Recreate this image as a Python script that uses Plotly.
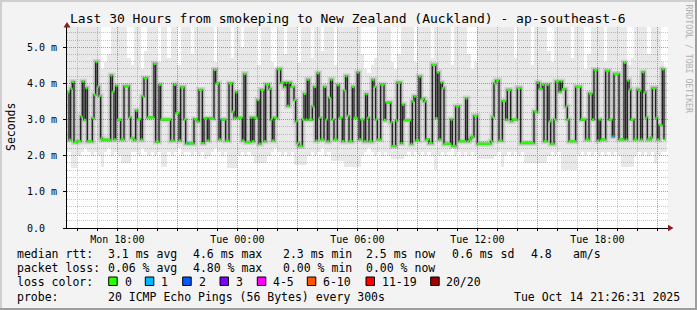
import plotly.graph_objects as go
import pandas as pd

MONO = "DejaVu Sans Mono"

# ---------------- data ----------------
# median RTT in ms, one value per 5-minute step starting Mon 15:30
median_ms = [
    3.75, 2.44, 3.85, 4.04, 2.38, 2.38, 2.4, 2.4, 3.08, 4.05,
    2.99, 3.87, 2.4, 2.4, 2.4, 3.04, 3.68, 4.59, 3.91, 3.65,
    2.48, 2.44, 2.44, 2.44, 2.44, 2.44, 4.22, 3.77, 2.45, 3.93,
    3.0, 2.99, 2.45, 2.45, 3.92, 3.92, 3.92, 3.06, 2.49, 2.49,
    2.44, 3.24, 3.01, 3.01, 2.45, 3.64, 4.14, 4.14, 3.06, 3.06,
    3.06, 3.06, 4.54, 2.39, 2.39, 3.96, 3.0, 3.0, 3.0, 3.0,
    3.0, 3.0, 2.42, 2.42, 3.96, 3.18, 3.18, 2.42, 3.89, 3.89,
    3.0, 2.34, 2.34, 2.34, 2.34, 2.34, 3.01, 3.01, 2.95, 3.82,
    3.82, 2.35, 3.03, 3.03, 2.42, 3.03, 3.03, 3.03, 4.37, 4.0,
    4.0, 2.45, 3.0, 3.0, 3.0, 2.42, 2.42, 4.0, 4.0, 3.22,
    3.05, 3.75, 3.05, 3.05, 3.05, 2.42, 4.26, 2.38, 2.38, 2.38,
    3.05, 2.4, 3.05, 3.05, 3.54, 2.33, 3.82, 3.82, 2.4, 3.96,
    3.96, 3.85, 3.0, 2.42, 3.05, 3.05, 4.39, 4.39, 4.02, 4.02,
    3.9, 4.02, 3.38, 4.02, 3.9, 3.9, 3.54, 2.95, 2.35, 2.27,
    2.27, 3.0, 3.71, 3.0, 4.1, 3.0, 3.0, 3.36, 3.9, 2.42,
    4.28, 3.05, 2.45, 2.45, 3.9, 3.0, 2.4, 3.6, 4.1, 3.0,
    2.45, 2.45, 3.95, 3.05, 3.05, 2.4, 3.8, 4.2, 3.1, 2.4,
    2.4, 3.9, 3.05, 3.05, 4.3, 2.45, 3.0, 3.0, 2.4, 3.7,
    3.05, 2.4, 2.4, 4.1, 3.9, 3.0, 2.45, 2.45, 3.96, 3.96,
    2.99, 3.47, 3.47, 3.47, 2.92, 2.27, 2.27, 2.97, 4.02, 4.02,
    2.35, 3.41, 2.98, 2.98, 2.98, 2.98, 2.33, 3.5, 3.64, 2.42,
    2.42, 4.19, 3.57, 3.57, 3.5, 2.45, 2.45, 2.35, 2.35, 4.51,
    4.51, 3.04, 4.3, 2.45, 4.02, 3.87, 2.33, 2.33, 2.33, 2.33,
    3.0, 2.27, 2.27, 3.36, 3.36, 2.4, 2.4, 2.4, 2.4, 3.58,
    2.4, 2.45, 2.5, 2.53, 3.1, 3.1, 2.33, 2.33, 2.33, 2.33,
    2.33, 2.33, 2.33, 2.33, 2.4, 3.07, 4.0, 4.08, 4.08, 2.42,
    2.42, 3.51, 3.51, 3.0, 3.82, 3.82, 2.96, 3.0, 3.0, 3.0,
    3.87, 3.87, 2.35, 2.35, 2.35, 2.35, 2.35, 2.35, 2.35, 2.35,
    3.22, 3.22, 4.02, 3.85, 3.85, 3.96, 2.4, 2.4, 3.96, 2.95,
    2.33, 2.33, 3.0, 4.05, 4.05, 3.77, 4.05, 3.84, 3.84, 3.36,
    3.0, 2.4, 2.4, 2.4, 2.4, 3.9, 3.9, 3.9, 3.0, 3.0,
    3.0, 2.45, 2.45, 3.72, 3.72, 3.0, 4.37, 4.37, 2.42, 3.0,
    2.45, 2.45, 2.45, 4.34, 4.34, 3.0, 3.0, 2.53, 4.26, 4.26,
    4.26, 2.45, 2.45, 2.45, 4.57, 2.45, 4.08, 3.83, 3.0, 3.0,
    2.45, 2.45, 3.83, 3.8, 2.45, 4.31, 3.75, 3.06, 2.45, 2.45,
    2.5, 3.87, 3.87, 3.05, 2.45, 2.85, 2.85, 4.39, 2.45,
]
# steps that lost pings (index into median_ms) and how many of 20 were lost
loss_steps = [72, 92, 327]
loss_counts = [1, 1, 1]

# smoke envelope (ms), one value per 10-minute column starting Mon 15:30
smoke_hi = (
    [5.6] * 10 + [4.4, 4.6, 4.8] + [5.6] * 5 + [4.7, 4.5] + [5.6] * 2 + [4.4, 4.9]
    + [5.6] * 3 + [4.6] + [5.6] * 2 + [4.7] + [5.6] * 2 + [4.5] + [5.6] * 3 + [4.8]
    + [5.6] * 6 + [4.6] + [5.6] * 4 + [4.7] + [5.6] * 2 + [5.0] + [5.6] * 4 + [4.5]
    + [5.6] * 3 + [4.6, 4.4] + [5.6] * 2 + [4.8] + [5.6] * 3 + [4.6] + [5.6] * 3
    + [4.7] + [5.6] * 2 + [4.9] + [5.6] * 3 + [4.5] + [5.6] * 7
    + [4.8, 4.4, 4.3, 4.5, 4.7] + [5.6] * 4 + [4.6, 4.4, 4.8] + [5.6] * 4 + [4.6]
    + [5.6] * 4 + [4.7] + [5.6] * 5 + [4.5] + [5.6] * 4 + [4.8, 4.4, 4.6] + [5.6] * 11
    + [4.7] + [5.6] * 4 + [4.5] + [5.6] * 4 + [4.9, 4.6] + [5.6] * 5 + [4.7] + [5.6] * 3
    + [4.4, 4.8] + [5.6] * 4 + [4.6] + [5.6] * 6 + [4.5, 4.7] + [5.6] * 4 + [4.8]
    + [5.6] * 3 + [4.6, 4.4]
)
smoke_lo = [
    2.1, 1.65, 1.65, 2.0, 2.1, 2.2, 2.1, 2.0, 2.1, 2.0,
    1.7, 2.1, 2.2, 2.0, 2.1, 2.0, 1.8, 1.8, 1.8, 2.1,
    2.1, 2.0, 2.2, 2.1, 2.0, 2.1, 2.0, 2.1, 1.7, 1.7,
    2.1, 2.0, 2.1, 2.2, 2.0, 2.1, 2.1, 2.0, 2.1, 2.0,
    2.1, 1.9, 2.0, 2.1, 2.2, 2.1, 2.0, 2.1, 1.65, 1.65,
    1.65, 2.0, 2.1, 2.0, 2.1, 2.0, 1.8, 1.8, 1.8, 1.8,
    2.0, 2.1, 2.2, 2.1, 2.0, 2.1, 2.0, 2.1, 1.75, 1.75,
    1.75, 1.75, 2.0, 2.1, 2.0, 2.1, 2.2, 2.0, 2.1, 1.85,
    1.85, 1.85, 1.85, 1.7, 1.7, 1.7, 1.7, 1.7, 2.0, 2.1,
    2.2, 2.1, 2.0, 2.1, 2.0, 2.1, 2.0, 1.9, 1.9, 1.9,
    1.9, 2.0, 2.1, 2.0, 2.1, 2.0, 2.1, 2.0, 2.1, 2.0,
    1.6, 2.0, 2.1, 2.0, 2.1, 2.2, 2.0, 2.1, 2.0, 2.1,
    2.0, 2.1, 2.0, 1.9, 1.9, 1.9, 1.9, 1.9, 2.0, 2.1,
    1.7, 2.0, 2.1, 2.0, 2.1, 2.0, 2.1, 1.8, 1.8, 1.8,
    1.8, 1.8, 1.8, 1.8, 2.0, 2.1, 2.0, 2.1, 1.6, 1.6,
    1.6, 1.6, 1.6, 2.0, 2.1, 2.0, 2.1, 2.0, 2.1, 2.0,
    2.1, 2.0, 2.1, 2.0, 2.1, 2.0, 1.7, 1.7, 1.7, 1.7,
    2.0, 2.1, 2.0, 2.1, 2.0, 2.1, 1.8, 2.0, 2.1, 2.1,
]

y_tick_vals = [0, 1, 2, 3, 4, 5]
y_tick_text = ["0.0\u00a0\u00a0", "1.0 m", "2.0 m", "3.0 m", "4.0 m", "5.0 m"]
x_tick_vals = ["2025-10-13 18:00", "2025-10-13 21:00", "2025-10-14 00:00",
               "2025-10-14 03:00", "2025-10-14 06:00", "2025-10-14 09:00",
               "2025-10-14 12:00", "2025-10-14 15:00", "2025-10-14 18:00",
               "2025-10-14 21:00"]
x_tick_text = ["Mon 18:00", "", "Tue 00:00", "", "Tue 06:00", "",
               "Tue 12:00", "", "Tue 18:00", ""]

loss_legend = ["0", "1", "2", "3", "4-5", "6-10", "11-19", "20/20"]
loss_colors = ["#26ff00", "#00b8ff", "#0059ff", "#7e00ff", "#ff00ff",
               "#ff5500", "#ff0000", "#a10000"]

# ---------------- derived x positions ----------------
t0 = pd.Timestamp("2025-10-13 15:30")
step = pd.Timedelta(minutes=5)
t_line = [t0 + i * step for i in range(len(median_ms))]
t_mark = [t + step / 2 for t in t_line]
t_smoke = [t0 + (2 * j + 1) * step for j in range(len(smoke_hi))]

loss_per_step = [0] * len(median_ms)
for i, c in zip(loss_steps, loss_counts):
    loss_per_step[i] = c
mark_colors = [loss_colors[min(c, 7)] for c in loss_per_step]

# ---------------- figure ----------------
L, T, W, H = 67, 27, 601, 201


def xp(px):
    return (px - L) / W


def yp(py):
    return (T + H - py) / H


fig = go.Figure()
fig.add_trace(go.Bar(
    x=t_smoke, y=[h - l for h, l in zip(smoke_hi, smoke_lo)], base=smoke_lo,
    width=600000, marker=dict(color="rgba(0,0,0,0.085)", line=dict(width=0)),
    hoverinfo="skip"))
fig.add_trace(go.Scatter(
    x=t_line, y=median_ms, mode="lines",
    line=dict(shape="hv", width=6, color="rgba(0,0,0,0.10)"), hoverinfo="skip"))
fig.add_trace(go.Scatter(
    x=t_line, y=median_ms, mode="lines",
    line=dict(shape="hv", width=3, color="rgba(0,0,0,0.16)"), hoverinfo="skip"))
fig.add_trace(go.Scatter(
    x=t_line, y=median_ms, mode="lines",
    line=dict(shape="hv", width=1.2, color="#1a1a1a"), hoverinfo="skip"))
fig.add_trace(go.Scatter(
    x=t_mark, y=median_ms, mode="markers",
    marker=dict(symbol="square", size=2.2, color=mark_colors, line=dict(width=0)),
    hoverinfo="skip"))

fig.update_layout(
    width=697, height=310,
    margin=dict(l=L, r=697 - L - W, t=T, b=310 - T - H, pad=0),
    paper_bgcolor="#f3f3f3", plot_bgcolor="#ffffff",
    showlegend=False, barmode="overlay", bargap=0,
    font=dict(family=MONO, size=10, color="#000000"),
)
fig.update_xaxes(
    type="date", range=["2025-10-13 15:29", "2025-10-14 21:32"],
    tickmode="array", tickvals=x_tick_vals, ticktext=x_tick_text,
    showgrid=True, gridcolor="#e48a8a", griddash="1px,1px", gridwidth=1,
    ticks="outside", ticklen=2, tickcolor="#000", tickwidth=1,
    tickfont=dict(family=MONO, size=10, color="#000"),
    showline=True, linecolor="#000", linewidth=1, zeroline=False,
    minor=dict(dtick=3600000, tick0="2025-10-13 16:00", showgrid=True,
               gridcolor="#c8c8c8", griddash="1px,1px", gridwidth=1,
               ticks="outside", ticklen=2, tickcolor="#000"),
    fixedrange=True,
)
fig.update_yaxes(
    range=[0, 5.56], tickmode="array", tickvals=y_tick_vals, ticktext=y_tick_text,
    showgrid=True, gridcolor="#e48a8a", griddash="1px,1px", gridwidth=1,
    ticks="outside", ticklen=3, tickcolor="#000", tickwidth=1,
    tickfont=dict(family=MONO, size=10, color="#000"), ticklabelstandoff=4,
    showline=True, linecolor="#000", linewidth=1, zeroline=False,
    minor=dict(dtick=0.2, tick0=0, showgrid=True, gridcolor="#c8c8c8",
               griddash="1px,1px", gridwidth=1),
    fixedrange=True,
)

shapes = []


def rect(x0, y0, x1, y1, fill, line=None):
    d = dict(type="rect", xref="paper", yref="paper",
             x0=xp(x0), x1=xp(x1), y0=yp(y1), y1=yp(y0),
             fillcolor=fill, line=dict(width=0) if line is None else line,
             layer="above")
    return d


def path(points, fill):
    s = "M " + " L ".join(f"{xp(a):.5f},{yp(b):.5f}" for a, b in points) + " Z"
    return dict(type="path", xref="paper", yref="paper", path=s,
                fillcolor=fill, line=dict(width=0), layer="above")


# 3D frame
shapes.append(rect(0, 0, 697, 2, "#cfcfcf"))
shapes.append(rect(0, 0, 2, 310, "#cfcfcf"))
shapes.append(rect(0, 308, 697, 310, "#9e9e9e"))
shapes.append(rect(695, 0, 697, 310, "#9e9e9e"))
# axis arrows
shapes.append(path([(63.5, 27.5), (70.5, 27.5), (67, 22)], "#8e1c1c"))
shapes.append(path([(668, 224.8), (668, 231.2), (673.5, 228)], "#8e1c1c"))

annotations = []


def ann(text, px, py, size=11.5, xanchor="left", color="#000", **kw):
    return dict(text=text, x=xp(px), y=yp(py), xref="paper", yref="paper",
                xanchor=xanchor, yanchor="middle", showarrow=False,
                font=dict(family=MONO, size=size, color=color), **kw)


annotations.append(ann("Last 30 Hours from smokeping to New Zealand (Auckland) - ap-southeast-6",
                       347.5, 18.5, size=13, xanchor="center"))
annotations.append(ann("Seconds", 11, 127, size=11.5, xanchor="center", textangle=-90))
annotations.append(ann("RRDTOOL / TOBI OETIKER", 688.5, 59, size=8.2,
                       xanchor="center", color="#b0b0b0", textangle=90))

rows = [253.7, 268.0, 282.3, 296.7]
row1 = [("median rtt:", 16), ("3.1 ms avg", 107.3), ("4.6 ms max", 192.7),
        ("2.3 ms min", 282.7), ("2.5 ms now", 365), ("0.6 ms sd", 451.7),
        ("4.8", 530), ("am/s", 572.3)]
row2 = [("packet loss:", 16), ("0.06 % avg", 107.3), ("4.80 % max", 192.7),
        ("0.00 % min", 282.7), ("0.00 % now", 365)]
row4 = [("probe:", 16), ("20 ICMP Echo Pings (56 Bytes) every 300s", 107.3),
        ("Tue Oct 14 21:26:31 2025", 513.3)]
for txt, px in row1:
    annotations.append(ann(txt, px - 1.5, rows[0]))
for txt, px in row2:
    annotations.append(ann(txt, px - 1.5, rows[1]))
for txt, px in row4:
    annotations.append(ann(txt, px - 1.5, rows[3]))
annotations.append(ann("loss color:", 16 - 1.5, rows[2]))

sq_x = [108.7, 145.3, 182.7, 220, 257.3, 307.3, 366, 430.7]
lab_x = [124, 160.7, 198, 235.3, 272.7, 322.7, 381, 445.7]
for sx, lx, lab, col in zip(sq_x, lab_x, loss_legend, loss_colors):
    shapes.append(rect(sx, 277, sx + 8.5, 285.5, col, line=dict(color="#000", width=1)))
    annotations.append(ann(lab, lx - 1.5, rows[2]))

fig.update_layout(shapes=shapes, annotations=annotations)
fig.write_html("out.html")
